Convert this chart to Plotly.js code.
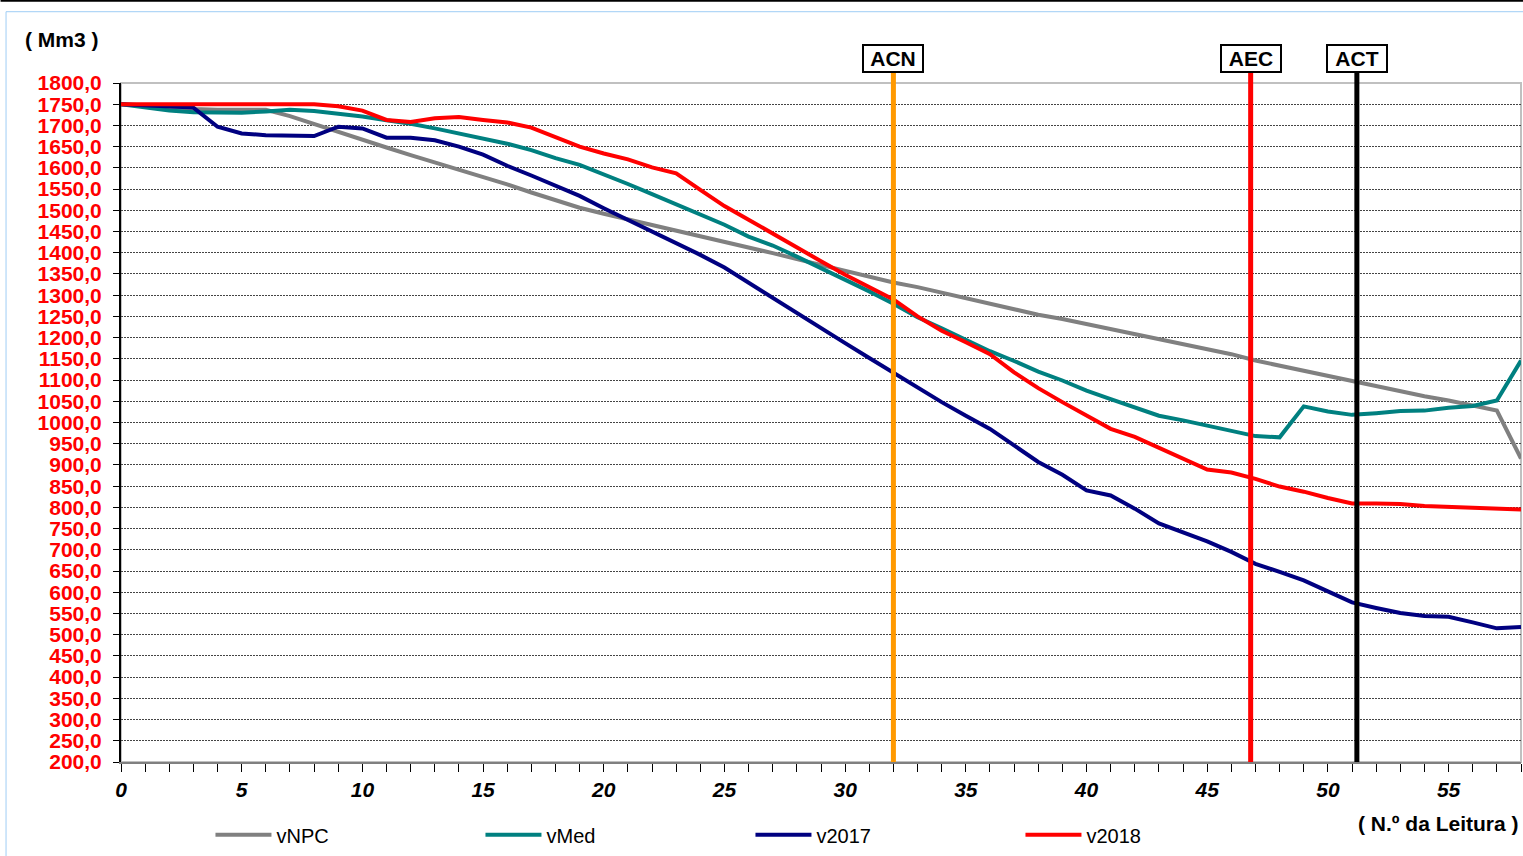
<!DOCTYPE html>
<html>
<head>
<meta charset="utf-8">
<script src="https://cdn.plot.ly/plotly-3.0.1.min.js"></script>
<style>
  html, body { margin: 0; padding: 0; background: #fff; }
  #chart { width: 1523px; height: 856px; }
</style>
</head>
<body>
<div id="chart"></div>
<script>
// N.º da Leitura (0..58)
const leituras = [0,1,2,3,4,5,6,7,8,9,10,11,12,13,14,15,16,17,18,19,20,21,22,23,24,25,26,27,28,29,30,31,32,33,34,35,36,37,38,39,40,41,42,43,44,45,46,47,48,49,50,51,52,53,54,55,56,57,58];

const vNPC = [1750,1746,1742,1739,1737,1737,1737,1722,1703,1685,1665,1648,1630,1613,1596,1578,1561,1542,1524,1506,1492,1479,1466,1453,1439,1426,1412,1399,1385,1371,1358,1344,1330,1319,1306,1293,1279,1267,1254,1244,1232,1220,1209,1197,1185,1173,1161,1146,1134,1122,1111,1097,1085,1074,1062,1052,1040,1028,915];

const vMed = [1750,1742,1735,1731,1730,1730,1733,1737,1734,1728,1721,1712,1704,1693,1681,1669,1657,1642,1623,1607,1585,1562,1538,1514,1492,1466,1438,1417,1391,1364,1336,1309,1280,1248,1222,1195,1168,1145,1120,1099,1075,1055,1036,1016,1005,993,980,968,965,1038,1026,1018,1022,1027,1028,1035,1039,1052,1146];

const v2017 = [1750,1748,1746,1742,1697,1681,1677,1675,1675,1697,1693,1671,1671,1665,1650,1631,1605,1582,1558,1534,1505,1478,1450,1423,1395,1365,1329,1293,1258,1223,1187,1152,1117,1082,1048,1016,985,946,907,877,840,828,797,762,742,720,695,667,648,628,602,576,563,551,544,542,529,515,518];

const v2018 = [1750,1750,1750,1750,1750,1750,1750,1750,1750,1745,1735,1713,1708,1717,1720,1713,1707,1695,1672,1650,1634,1620,1601,1587,1548,1510,1478,1445,1411,1380,1348,1320,1290,1250,1216,1189,1161,1118,1081,1048,1016,985,966,940,914,889,882,867,849,837,822,809,809,808,803,801,801,797,795];

const seriesNames = ['vNPC','vMed','v2017','v2018'];
const markerNames = ['ACN','AEC','ACT'];
const markerPos = [32, 46.8, 51.2];

const FONT = '"Liberation Sans", Arial, sans-serif';
const colors = ['#808080','#008080','#000080','#FF0000'];
const markerColors = ['#FF9900','#FF0000','#000000'];
const allSeries = [vNPC, vMed, v2017, v2018];

const traces = allSeries.map((ys, k) => ({
  type: 'scatter', mode: 'lines',
  x: leituras, y: ys, name: seriesNames[k],
  line: {color: colors[k], width: 4},
  hoverinfo: 'skip'
}));

// pixel helpers for paper coordinates (plot area 120.5..1521 x, 83..764 y)
const L = 120.5, R = 1521, T = 83, B = 764;
const px = v => (v - L) / (R - L);
const py = v => (B - v) / (B - T);

const shapes = [
  {type:'line', xref:'paper', yref:'paper', x0:px(0), x1:px(1523), y0:py(0.5), y1:py(0.5), line:{color:'#000', width:2}},
  {type:'rect', xref:'paper', yref:'paper', x0:px(5.5), x1:px(1540), y0:py(11.5), y1:py(900), line:{color:'#9fcdf5', width:1}, layer:'below'},
  {type:'rect', xref:'paper', yref:'paper', x0:0, x1:1, y0:0, y1:1, line:{color:'#c0c0c0', width:2}, layer:'below'}
];
markerPos.forEach((p, k) => {
  shapes.push({type:'line', xref:'x', yref:'paper', x0:p, x1:p, y0:0, y1:py(73), line:{color:markerColors[k], width:5}});
});

const annotations = [
  {xref:'paper', yref:'paper', x:px(61), y:py(39), text:'( Mm3 )', showarrow:false, xanchor:'center', yanchor:'middle',
   font:{family:FONT, size:21, color:'#000', weight:'bold'}},
  {xref:'paper', yref:'paper', x:px(1521), y:py(826), text:'( N.º da Leitura )', showarrow:false, xanchor:'right', yanchor:'middle',
   font:{family:FONT, size:21, color:'#000', weight:'bold'}}
];
markerPos.forEach((p, k) => {
  annotations.push({xref:'x', yref:'paper', x:p, y:py(73), text:markerNames[k], showarrow:false,
    xanchor:'center', yanchor:'bottom', bgcolor:'#fff', bordercolor:'#000', borderwidth:2, borderpad:1,
    width:56, height:23,
    font:{family:FONT, size:21, color:'#000', weight:'bold'}});
});

const layout = {
  width: 1523, height: 856,
  margin: {l: L, r: 1523 - R, t: T, b: 856 - B, pad: 0},
  paper_bgcolor: '#fff', plot_bgcolor: '#fff',
  separators: ',.',
  showlegend: true,
  legend: {orientation:'h', x: px(210), xanchor:'left', y: py(837), yanchor:'middle',
           itemwidth: 56,
           entrywidth: 199, entrywidthmode:'pixels', bgcolor:'rgba(0,0,0,0)',
           font:{family:FONT, size:20, color:'#000'}, traceorder:'normal'},
  xaxis: {
    range: [0, 58], dtick: 5, tick0: 0,
    ticks: 'outside', ticklen: 8, tickcolor: '#000', tickwidth: 1,
    minor: {dtick: 1, ticks: 'outside', ticklen: 8, tickcolor: '#000', tickwidth: 1, showgrid: false},
    showgrid: false, zeroline: false,
    showline: true, linecolor: '#808080', linewidth: 2,
    ticklabelstandoff: 0,
    tickfont: {family: FONT, size: 21, color: '#000', weight: 'bold', style: 'italic'}
  },
  yaxis: {
    range: [200, 1800], dtick: 50, tick0: 200,
    tickformat: '.1f',
    ticks: 'outside', ticklen: 6, tickcolor: '#000', tickwidth: 1,
    showgrid: true, gridcolor: '#444', gridwidth: 1, griddash: '2px,1px',
    zeroline: false,
    showline: true, linecolor: '#000', linewidth: 2,
    ticklabelstandoff: 7,
    tickfont: {family: FONT, size: 21, color: '#FF0000', weight: 'bold'}
  },
  shapes: shapes,
  annotations: annotations
};

Plotly.newPlot('chart', traces, layout, {staticPlot: true, displayModeBar: false});
</script>
</body>
</html>
